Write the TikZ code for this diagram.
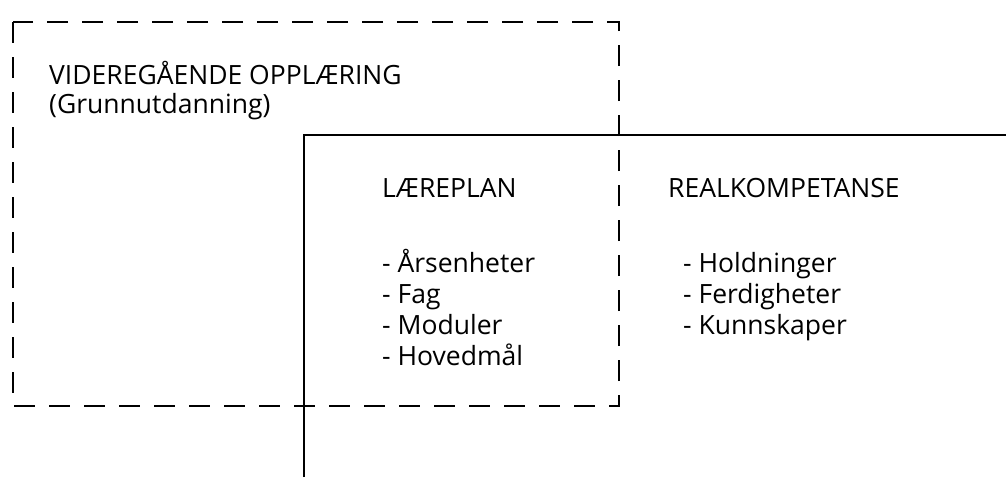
\documentclass[tikz,border=0pt]{standalone}
\usepackage{fontspec}
\setmainfont{Open Sans}
\begin{document}
\begin{tikzpicture}[x=1pt,y=-1pt,
  lbl/.style={anchor=base west,inner sep=0pt,font=\fontsize{26.5}{30}\selectfont},
  dashbox/.style={line width=2.8pt,dash pattern=on 21pt off 14pt},
  solidline/.style={line width=2.8pt}]
\useasboundingbox (0,0) rectangle (1006,477);
\coordinate (d1) at (13,22);
\coordinate (d2) at (619,406);
\draw[dashbox] (d1) rectangle (d2);
\coordinate (s1) at (304,477);
\coordinate (s2) at (304,135);
\coordinate (s3) at (1006,135);
\draw[solidline] (s1) -- (s2) -- (s3);
\node[lbl] (vgo1) at (49,84) {VIDEREGÅENDE OPPLÆRING};
\node[lbl] (vgo2) at (49,113) {(Grunnutdanning)};
\node[lbl] (lp) at (382,197) {LÆREPLAN};
\node[lbl] (lp1) at (382,272) {- Årsenheter};
\node[lbl] (lp2) at (382,303) {- Fag};
\node[lbl] (lp3) at (382,334) {- Moduler};
\node[lbl] (lp4) at (382,365) {- Hovedmål};
\node[lbl] (rk) at (668,197) {REALKOMPETANSE};
\node[lbl] (rk1) at (683,272) {- Holdninger};
\node[lbl] (rk2) at (683,303) {- Ferdigheter};
\node[lbl] (rk3) at (683,334) {- Kunnskaper};
\end{tikzpicture}
\end{document}
